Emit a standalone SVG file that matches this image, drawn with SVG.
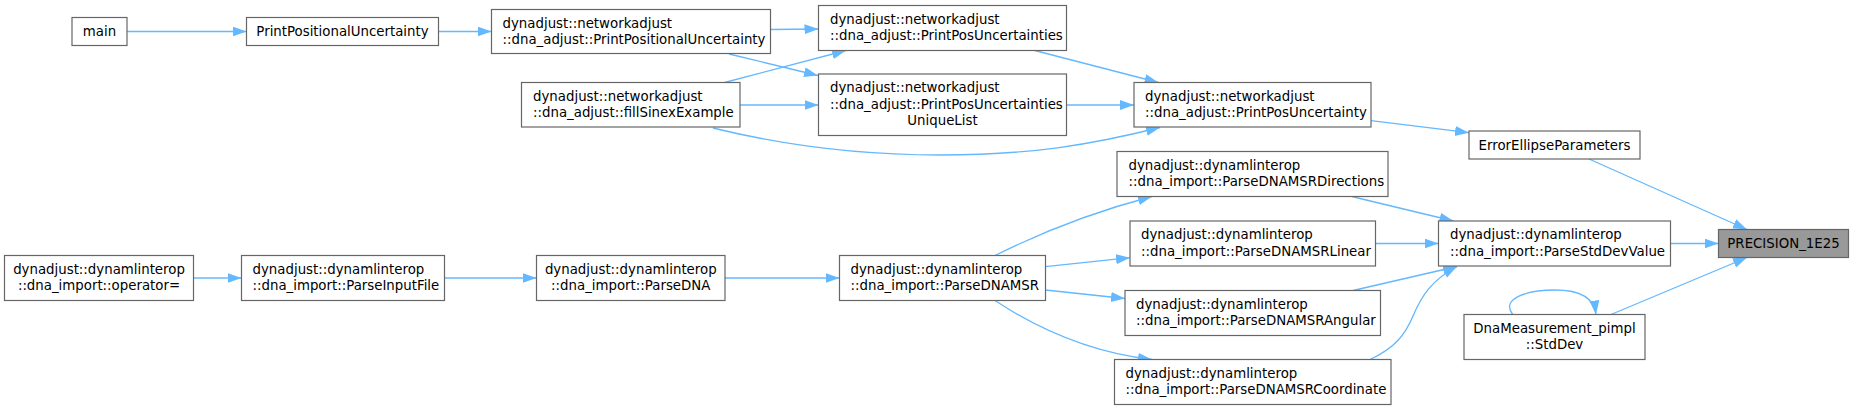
<svg xmlns="http://www.w3.org/2000/svg" width="1854" height="410" viewBox="0 0 1854 410">
<style>
.n rect{fill:#fff;stroke:#666;stroke-width:1.2}
.n.hl rect{fill:#999}
.n text{font-family:"DejaVu Sans","Liberation Sans",sans-serif;font-size:13.33px;fill:#000}
.c{text-anchor:middle}
.e path{fill:none;stroke:#63b8ff;stroke-width:1.3;marker-end:url(#a)}
</style>
<defs>
<marker id="a" markerUnits="userSpaceOnUse" markerWidth="16" markerHeight="12" refX="14" refY="5" orient="auto">
<path d="M0,0 L14,5 L0,10 z" fill="#63b8ff" stroke="none"/>
</marker>
</defs>
<rect width="1854" height="410" fill="#fff"/>
<g class="e" id="edges">
<path d="M127,31.5 L246.5,31.5"/>
<path d="M438.5,31.5 L491.5,31.5"/>
<path d="M770.5,29.5 L818.5,29"/>
<path d="M729,54 L818,75.5"/>
<path d="M724.5,82.5 L846,50.5"/>
<path d="M740,105 L818.5,105"/>
<path d="M713,128 C770,142 850,155 940,155 C1030,155 1090,145 1160,127.5"/>
<path d="M1034.7,50.5 L1158.5,82.5"/>
<path d="M1066.5,105 L1134,105"/>
<path d="M1371,120.7 L1469,132.7"/>
<path d="M1589,159 L1747,229.5"/>
<path d="M1670.5,243.5 L1718.5,243.5"/>
<path d="M1611,314.5 L1747,257.5"/>
<path d="M1512.7,314.5 C1500,298 1528,290 1555,290 C1578,290 1594,297 1596,314.5"/>
<path d="M1351.7,196.5 L1453.5,221"/>
<path d="M1375.5,243.5 L1438.5,243.5"/>
<path d="M1353,290.5 L1457,266.5"/>
<path d="M1370,359.5 C1395,348 1405,335 1413,316 C1422,295 1432,280 1457,266.5"/>
<path d="M995,255.5 Q1070,218 1152,196.5"/>
<path d="M1045.5,266.7 L1130,257.7"/>
<path d="M1045.5,290 L1125,298.5"/>
<path d="M995,300.5 Q1070,350 1152,359.5"/>
<path d="M725,278 L839.5,278"/>
<path d="M444.5,278 L536.5,278"/>
<path d="M193.5,278 L241.5,278"/>
</g>
<g class="n" id="main"><rect x="72" y="17.5" width="55" height="28"/><text class="c" x="99.5" y="36">main</text></g>
<g class="n" id="PrintPositionalUncertainty"><rect x="246.5" y="17.5" width="192" height="28"/><text class="c" x="342.5" y="36">PrintPositionalUncertainty</text></g>
<g class="n" id="dna_adjust_PrintPositionalUncertainty"><rect x="491.5" y="9.5" width="279" height="44"/><text x="502.5" y="27.5">dynadjust::networkadjust</text><text x="502.5" y="44">::dna_adjust::PrintPositionalUncertainty</text></g>
<g class="n" id="fillSinexExample"><rect x="521.5" y="82.5" width="218.5" height="44.5"/><text x="533" y="100.5">dynadjust::networkadjust</text><text x="533" y="117">::dna_adjust::fillSinexExample</text></g>
<g class="n" id="PrintPosUncertainties"><rect x="818.5" y="5.5" width="248" height="45"/><text x="830" y="23.5">dynadjust::networkadjust</text><text x="830" y="40">::dna_adjust::PrintPosUncertainties</text></g>
<g class="n" id="PrintPosUncertaintiesUniqueList"><rect x="818.5" y="74" width="248" height="61.5"/><text x="830" y="92">dynadjust::networkadjust</text><text x="830" y="108.5">::dna_adjust::PrintPosUncertainties</text><text class="c" x="942.5" y="125">UniqueList</text></g>
<g class="n" id="PrintPosUncertainty"><rect x="1134" y="82.5" width="237" height="44.5"/><text x="1145" y="100.5">dynadjust::networkadjust</text><text x="1145" y="117">::dna_adjust::PrintPosUncertainty</text></g>
<g class="n" id="ErrorEllipseParameters"><rect x="1469" y="131" width="171" height="28"/><text class="c" x="1554.5" y="149.5">ErrorEllipseParameters</text></g>
<g class="n hl" id="PRECISION_1E25"><rect x="1718.5" y="229.5" width="130" height="28"/><text class="c" x="1783.5" y="248">PRECISION_1E25</text></g>
<g class="n" id="ParseStdDevValue"><rect x="1438.5" y="221" width="232" height="45"/><text x="1450" y="239">dynadjust::dynamlinterop</text><text x="1450" y="255.5">::dna_import::ParseStdDevValue</text></g>
<g class="n" id="ParseDNAMSRDirections"><rect x="1117" y="151.5" width="271" height="45"/><text x="1128.5" y="169.5">dynadjust::dynamlinterop</text><text x="1128.5" y="186">::dna_import::ParseDNAMSRDirections</text></g>
<g class="n" id="ParseDNAMSRLinear"><rect x="1130" y="221" width="245.5" height="45"/><text x="1141" y="239">dynadjust::dynamlinterop</text><text x="1141" y="255.5">::dna_import::ParseDNAMSRLinear</text></g>
<g class="n" id="ParseDNAMSRAngular"><rect x="1125" y="290.5" width="255.5" height="45"/><text x="1136" y="308.5">dynadjust::dynamlinterop</text><text x="1136" y="325">::dna_import::ParseDNAMSRAngular</text></g>
<g class="n" id="ParseDNAMSRCoordinate"><rect x="1114.5" y="359.5" width="276.5" height="45"/><text x="1125.5" y="377.5">dynadjust::dynamlinterop</text><text x="1125.5" y="394">::dna_import::ParseDNAMSRCoordinate</text></g>
<g class="n" id="ParseDNAMSR"><rect x="839.5" y="255.5" width="206" height="45"/><text x="850.5" y="273.5">dynadjust::dynamlinterop</text><text x="850.5" y="290">::dna_import::ParseDNAMSR</text></g>
<g class="n" id="ParseDNA"><rect x="536.5" y="255.5" width="188.5" height="45"/><text class="c" x="630.75" y="273.5">dynadjust::dynamlinterop</text><text class="c" x="630.75" y="290">::dna_import::ParseDNA</text></g>
<g class="n" id="ParseInputFile"><rect x="241.5" y="255.5" width="203" height="45"/><text x="252.5" y="273.5">dynadjust::dynamlinterop</text><text x="252.5" y="290">::dna_import::ParseInputFile</text></g>
<g class="n" id="operator_eq"><rect x="4.5" y="255.5" width="189" height="45"/><text class="c" x="99" y="273.5">dynadjust::dynamlinterop</text><text class="c" x="99" y="290">::dna_import::operator=</text></g>
<g class="n" id="StdDev"><rect x="1464" y="314.5" width="181" height="45"/><text class="c" x="1554.5" y="332.5">DnaMeasurement_pimpl</text><text class="c" x="1554.5" y="349">::StdDev</text></g>
</svg>
